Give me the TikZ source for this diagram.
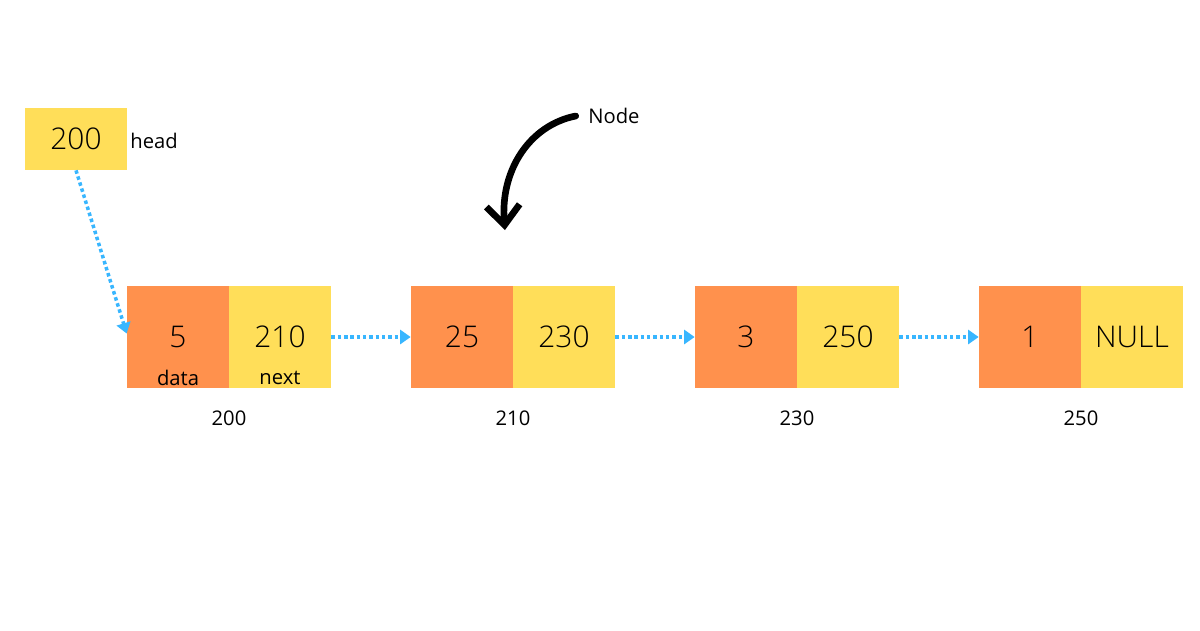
\documentclass[tikz,border=0pt]{standalone}
\usepackage{fontspec}
\setmainfont{Open Sans}
\newfontfamily\lightfont{Open Sans Light}
\usetikzlibrary{arrows.meta}
\definecolor{dataorange}{HTML}{FF914D}
\definecolor{nextyellow}{HTML}{FFDE59}
\definecolor{linkblue}{HTML}{38B6FF}
\tikzset{
  cell/.style={rectangle, minimum width=2.04cm, minimum height=2.04cm, inner sep=0pt, font=\lightfont\fontsize{17}{20}\selectfont},
  datacell/.style={cell, fill=dataorange},
  nextcell/.style={cell, fill=nextyellow},
  small/.style={font=\fontsize{11.5}{14}\selectfont, inner sep=0pt},
  link/.style={linkblue, line width=2pt, dash pattern=on 2pt off 1.6pt, -{Triangle[length=6pt, width=8pt]}}
}
\begin{document}
\begin{tikzpicture}[x=0.02cm, y=-0.02cm]
\useasboundingbox (0,0) rectangle (1200,630);
\node[nextcell, minimum height=1.24cm] (head) at (76,139) {200};
\node[small, anchor=west] (headlbl) at (130,141) {head};
% nodes of the list
\node[datacell] (d1) at (178,337) {5};
\node[nextcell] (n1) at (280,337) {210};
\node[datacell] (d2) at (462,337) {25};
\node[nextcell] (n2) at (564,337) {230};
\node[datacell] (d3) at (746,337) {3};
\node[nextcell] (n3) at (848,337) {250};
\node[datacell] (d4) at (1030,337) {1};
\node[nextcell] (n4) at (1132,337) {NULL};
\node[small] (datalbl) at (178,378) {data};
\node[small] (nextlbl) at (280,378) {next};
\node[small] (a1) at (229,418) {200};
\node[small] (a2) at (513,418) {210};
\node[small] (a3) at (797,418) {230};
\node[small] (a4) at (1081,418) {250};
\node[small, anchor=west] (nodelbl) at (588,116) {Node};
% links
\draw[link] (head.south) -- ([yshift=2]d1.west);
\draw[link] (n1.east) -- (d2.west);
\draw[link] (n2.east) -- (d3.west);
\draw[link] (n3.east) -- (d4.west);
\draw[line width=3.8pt, line cap=round, -{Straight Barb[length=11pt, width=19pt, line width=3.8pt]}]
  ([xshift=-7]nodelbl.west) .. controls (530,125) and (500,170) .. (505,230);
\end{tikzpicture}
\end{document}
